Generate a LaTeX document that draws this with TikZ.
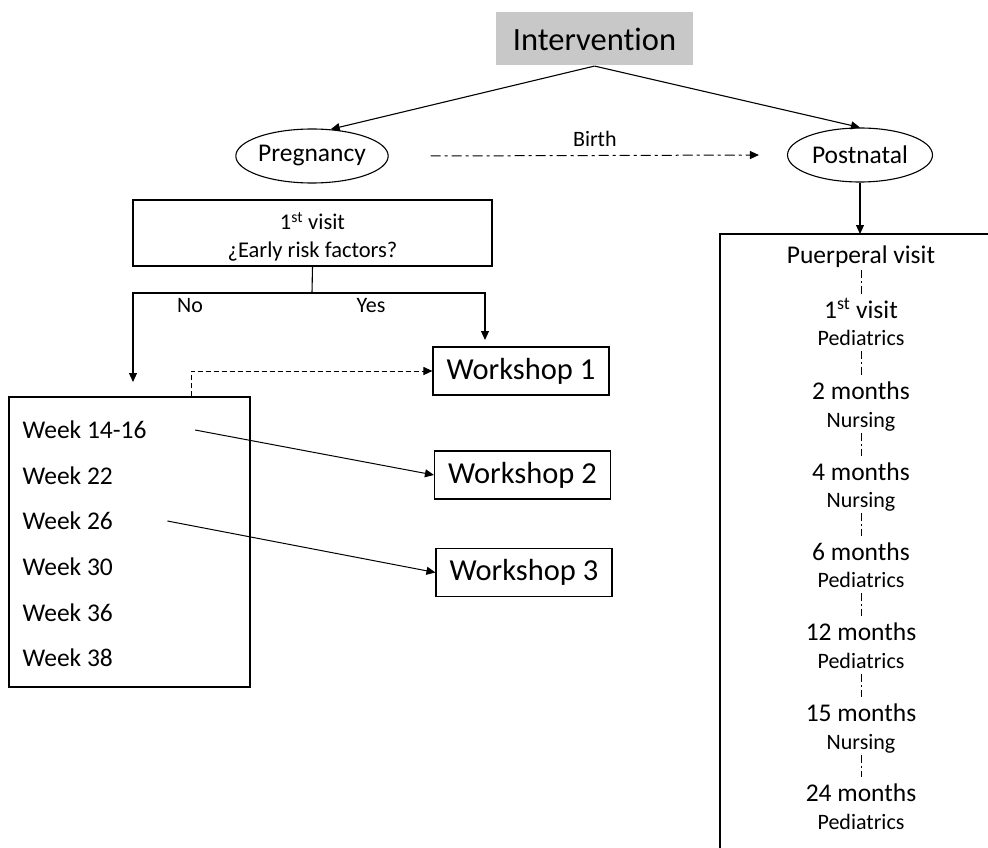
\documentclass[tikz,border=0pt]{standalone}
\usepackage{fontspec}
\setmainfont{Carlito}[Ligatures={NoCommon}]
\usetikzlibrary{arrows.meta,shapes.geometric}
\definecolor{boxgray}{RGB}{200,200,200}
\begin{document}
\begin{tikzpicture}[x=1pt,y=-1pt,
  line width=1.1pt,
  arr/.style={-{Triangle[length=9pt,width=8pt]}},
  plainbox/.style={draw, rectangle, inner sep=0pt, line width=1.1pt},
  ell/.style={draw, ellipse, inner sep=0pt, minimum width=145pt, minimum height=54pt, font=\fontsize{25.5}{30}\selectfont},
  wk/.style={anchor=west, inner sep=0pt, font=\fontsize{25.5}{30}\selectfont, text height=19pt, text depth=2.6pt},
  bigtxt/.style={inner sep=0pt, font=\fontsize{25.5}{30}\selectfont, text height=19pt, text depth=2.6pt},
  smalltxt/.style={inner sep=0pt, font=\fontsize{22}{24}\selectfont, text height=17pt, text depth=3pt},
  lbl/.style={inner sep=0pt, font=\fontsize{22}{24}\selectfont},
  dashdot/.style={line width=0.8pt, dash pattern=on 8pt off 3pt on 1.5pt off 3pt},
  wsbox/.style={plainbox, minimum width=176pt, minimum height=48pt, font=\fontsize{30.5}{34}\selectfont},
]
\useasboundingbox (0,0) rectangle (988,848);

% top
\node[fill=boxgray, minimum width=197pt, minimum height=53pt, inner sep=0pt, font=\fontsize{32.5}{38}\selectfont] (interv) at (594.5,39) {Intervention};
\node[ell] (preg) at (312,156) {Pregnancy};
\node[ell] (post) at (860,155) {Postnatal};

\draw[arr] (interv.south) -- (preg.55);
\draw[arr] (interv.south) -- (post.north);
\draw[arr, line width=1pt, dash pattern=on 10pt off 4pt on 3pt off 4pt] ([xshift=42pt]preg.east) -- node[lbl, above=8pt] (birth) {Birth} ([xshift=-28pt]post.west);

% pregnancy branch
\node[plainbox, minimum width=359pt, minimum height=66pt] (visit) at (312.5,233) {};
\node[inner sep=0pt, align=center, font=\fontsize{22.5}{28}\selectfont] (visittxt) at (312.5,237) {1\textsuperscript{st} visit\\¿Early risk factors?};
\coordinate (split) at (312,293);
\coordinate (noend) at (133,382);
\coordinate (yesend) at (485,340);
\draw (visit.south) -- (split);
\draw[arr] (split) -| (noend);
\draw[arr] (split) -| (yesend);
\node[lbl] (nolbl) at (190,306) {No};
\node[lbl] (yeslbl) at (371,306) {Yes};

\node[wsbox] (ws1) at (521,371) {Workshop 1};
\node[wsbox] (ws2) at (522.5,475) {Workshop 2};
\node[wsbox] (ws3) at (524,572.5) {Workshop 3};

\node[plainbox, minimum width=241pt, minimum height=290pt] (weeks) at (129.5,542) {};
\node[wk] (w1) at (22,430) {Week 14-16};
\node[wk] (w2) at (22,476) {Week 22};
\node[wk] (w3) at (22,521) {Week 26};
\node[wk] (w4) at (22,567) {Week 30};
\node[wk] (w5) at (22,613) {Week 36};
\node[wk] (w6) at (22,658) {Week 38};

\draw[arr, line width=1pt, dash pattern=on 5pt off 3pt] ([xshift=61.5pt]weeks.north) |- (ws1.west);
\draw[arr, line width=1pt] ([xshift=48pt]w1.east) -- (ws2.west);
\draw[arr, line width=1pt] ([xshift=54pt]w3.east) -- (ws3.west);

% postnatal branch
\coordinate (bigtop) at (860,234);
\draw[arr] (post.south) -- (bigtop);
\draw (720,848) -- (720,234) -- (988,234);

\node[bigtxt] (puer) at (861,255) {Puerperal visit};
\node[bigtxt] (m1) at (861,310) {1\textsuperscript{st} visit};
\node[smalltxt] (s1) at (861,338) {Pediatrics};
\node[bigtxt] (m2) at (861,391) {2 months};
\node[smalltxt] (s2) at (861,420) {Nursing};
\node[bigtxt] (m3) at (861,472) {4 months};
\node[smalltxt] (s3) at (861,500) {Nursing};
\node[bigtxt] (m4) at (861,552) {6 months};
\node[smalltxt] (s4) at (861,580) {Pediatrics};
\node[bigtxt] (m5) at (861,632) {12 months};
\node[smalltxt] (s5) at (861,661) {Pediatrics};
\node[bigtxt] (m6) at (861,713) {15 months};
\node[smalltxt] (s6) at (861,742) {Nursing};
\node[bigtxt] (m7) at (861,793) {24 months};
\node[smalltxt] (s7) at (861,822) {Pediatrics};

\draw[dashdot] ([yshift=-15pt]puer.center) -- ([yshift=15pt]m1.center);
\foreach \a/\b in {s1/m2, s2/m3, s3/m4, s4/m5, s5/m6, s6/m7}
  \draw[dashdot] ([yshift=-13pt]\a.center) -- ([yshift=16pt]\b.center);
\end{tikzpicture}
\end{document}
